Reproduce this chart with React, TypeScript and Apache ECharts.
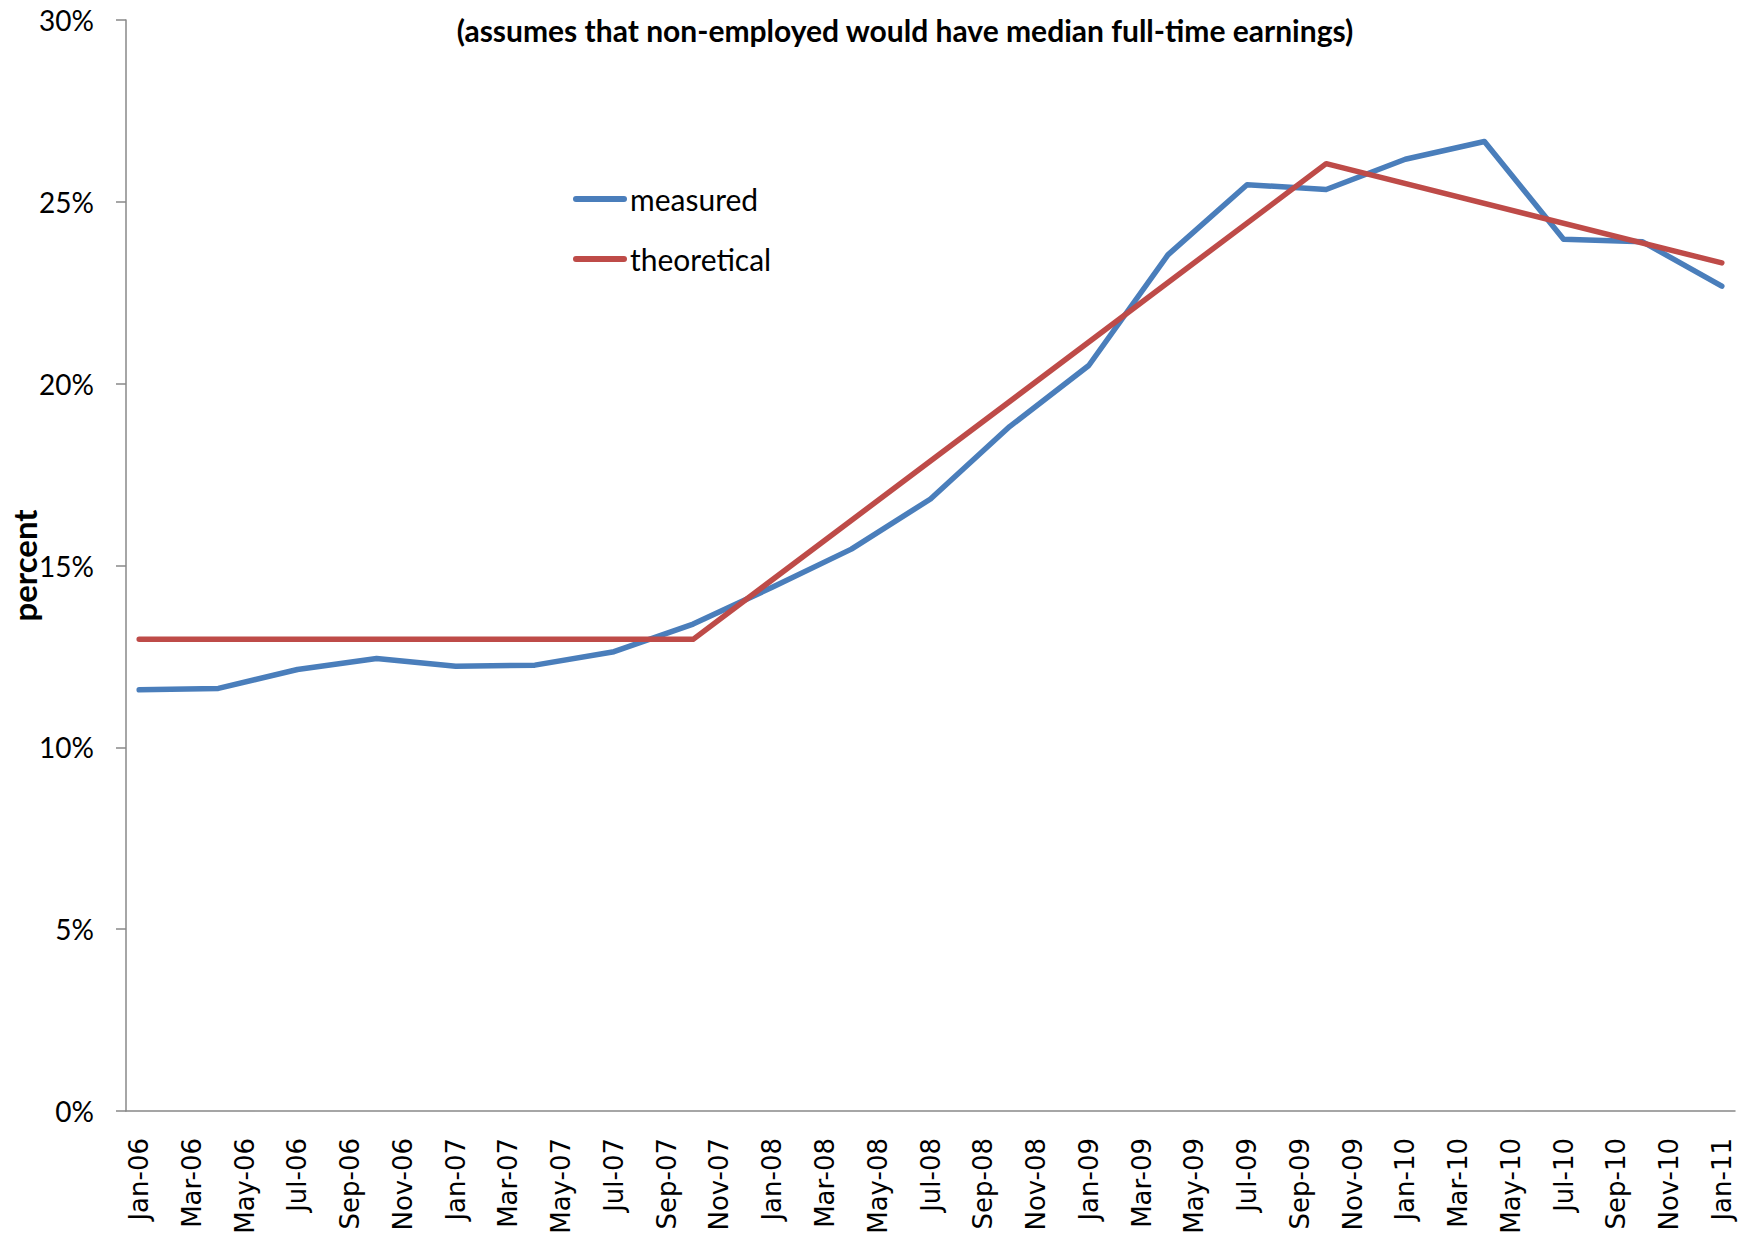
import React, { useEffect, useRef } from "react";
import * as echarts from "echarts";

// Monthly axis, Jan-06 .. Jan-11
const monthNames = ["Jan", "Feb", "Mar", "Apr", "May", "Jun", "Jul", "Aug", "Sep", "Oct", "Nov", "Dec"];
const years = ["06", "07", "08", "09", "10", "11"];

// Quarterly observations
const quarterLabels = [
  "Jan-06", "Apr-06", "Jul-06", "Oct-06",
  "Jan-07", "Apr-07", "Jul-07", "Oct-07",
  "Jan-08", "Apr-08", "Jul-08", "Oct-08",
  "Jan-09", "Apr-09", "Jul-09", "Oct-09",
  "Jan-10", "Apr-10", "Jul-10", "Oct-10",
  "Jan-11",
];
const measured = [
  11.58, 11.62, 12.14, 12.44,
  12.23, 12.26, 12.63, 13.39,
  14.4, 15.45, 16.83, 18.82,
  20.5, 23.54, 25.47, 25.34,
  26.17, 26.66, 23.97, 23.9,
  22.68,
];
// theoretical path: flat until Oct-07, peak at Oct-09, then declining
const theoreticalLabels = ["Jan-06", "Oct-07", "Oct-09", "Jan-11"];
const theoretical = [12.97, 12.97, 26.05, 23.32];

const yTicks = { min: 0, max: 30, interval: 5 };

const subtitle = "(assumes that non-employed would have median full-time earnings)";

const BLUE = "#4A7EBB";
const RED = "#BE4B48";
const AXIS = "#888888";

function buildMonths(): string[] {
  const out: string[] = [];
  for (const y of years) {
    for (const m of monthNames) {
      out.push(`${m}-${y}`);
      if (y === "11") return out;
    }
  }
  return out;
}

export default function App() {
  const ref = useRef<HTMLDivElement>(null);

  useEffect(() => {
    if (!ref.current) return;
    const chart = echarts.init(ref.current, undefined, { renderer: "svg" });
    const months = buildMonths();

    const place = (labels: string[], values: number[]) => {
      const arr: (number | null)[] = months.map(() => null);
      labels.forEach((l, i) => {
        const idx = months.indexOf(l);
        if (idx >= 0) arr[idx] = values[i];
      });
      return arr;
    };

    const legendIcon = "path://M3,0 L51,0 A3,3 0 0 1 51,6 L3,6 A3,3 0 0 1 3,0 Z";

    chart.setOption({
      animation: false,
      backgroundColor: "#ffffff",
      textStyle: { fontFamily: "Lato" },
      grid: { left: 126, right: 12, top: 20, bottom: 131, containLabel: false, outerBoundsMode: "none" },
      graphic: [
        {
          type: "text",
          x: 905,
          y: 30,
          style: {
            text: subtitle,
            font: "bold 30px Lato",
            fill: "#000",
            textAlign: "center",
            textVerticalAlign: "middle",
          },
        },
      ],
      legend: {
        orient: "vertical",
        left: 568,
        top: 179,
        itemWidth: 54,
        itemHeight: 6,
        itemGap: 30,
        textStyle: { fontFamily: "Lato", fontSize: 30, color: "#000", padding: [0, 0, 0, -2] },
        data: [
          { name: "measured", icon: legendIcon, itemStyle: { color: BLUE } },
          { name: "theoretical", icon: legendIcon, itemStyle: { color: RED } },
        ],
      },
      xAxis: {
        type: "category",
        data: months,
        boundaryGap: true,
        axisLine: { lineStyle: { color: AXIS, width: 1.5 } },
        axisTick: { interval: 1, length: 9, lineStyle: { color: AXIS, width: 1.5 } },
        axisLabel: {
          interval: 1,
          rotate: 90,
          margin: 27,
          fontFamily: "DejaVu Sans",
          fontSize: 26,
          color: "#000",
        },
        splitLine: { show: false },
      },
      yAxis: {
        type: "value",
        min: yTicks.min,
        max: yTicks.max,
        interval: yTicks.interval,
        name: "percent",
        nameLocation: "middle",
        nameGap: 86,
        nameMoveOverlap: false,
        nameTextStyle: { fontFamily: "Lato", fontWeight: "bold", fontSize: 33, color: "#000" },
        axisLine: { show: true, lineStyle: { color: AXIS, width: 1.5 } },
        axisTick: { show: true, length: 10, lineStyle: { color: AXIS, width: 1.5 } },
        axisLabel: {
          formatter: "{value}%",
          margin: 32,
          fontFamily: "Lato",
          fontSize: 28,
          color: "#000",
        },
        splitLine: { show: false },
      },
      series: [
        {
          name: "measured",
          type: "line",
          data: place(quarterLabels, measured),
          connectNulls: true,
          showSymbol: false,
          symbol: "none",
          lineStyle: { color: BLUE, width: 5.5, cap: "round", join: "round" },
          itemStyle: { color: BLUE },
        },
        {
          name: "theoretical",
          type: "line",
          data: place(theoreticalLabels, theoretical),
          connectNulls: true,
          showSymbol: false,
          symbol: "none",
          lineStyle: { color: RED, width: 5.5, cap: "round", join: "round" },
          itemStyle: { color: RED },
        },
      ],
    });

    return () => chart.dispose();
  }, []);

  return (
    <div
      ref={ref}
      style={{ position: "absolute", left: 0, top: 0, width: 1747, height: 1242, background: "#fff" }}
    />
  );
}
